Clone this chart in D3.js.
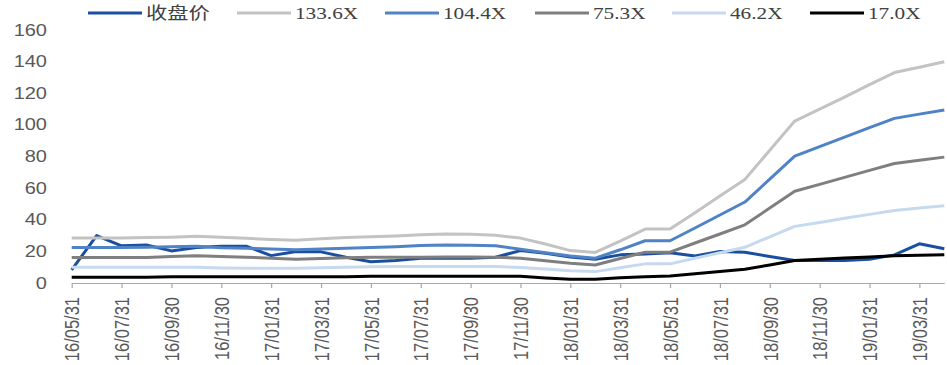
<!DOCTYPE html>
<html>
<head>
<meta charset="utf-8">
<script src="https://cdn.jsdelivr.net/npm/d3@7"></script>
<style>
  body { margin: 0; background: #fff; }
  svg { display: block; }
</style>
</head>
<body>
<script>
'use strict';

// month-end dates, 16/05/31 .. 19/04/30
const dates = [
  '16/05/31', '16/06/30', '16/07/31', '16/08/31', '16/09/30', '16/10/31',
  '16/11/30', '16/12/31', '17/01/31', '17/02/28', '17/03/31', '17/04/30',
  '17/05/31', '17/06/30', '17/07/31', '17/08/31', '17/09/30', '17/10/31',
  '17/11/30', '17/12/31', '18/01/31', '18/02/28', '18/03/31', '18/04/30',
  '18/05/31', '18/06/30', '18/07/31', '18/08/31', '18/09/30', '18/10/31',
  '18/11/30', '18/12/31', '19/01/31', '19/02/28', '19/03/31', '19/04/30'
];

const seriesNames = ['收盘价', '133.6X', '104.4X', '75.3X', '46.2X', '17.0X'];
const seriesColors = ['#1a4f9f', '#c3c3c3', '#4f83c6', '#7f7f7f', '#c6d9ef', '#000000'];

const closePrice = [8.3, 30, 23.5, 24, 20.3, 22.4, 23.3, 23.3, 17.3, 19.9, 19.7, 16.3,
  13.5, 14.2, 15.7, 15.7, 15.7, 16.3, 20.5, 18.8, 16.5, 15, 17.8, 18.4,
  19.2, 17.1, 19.9, 19.5, 16.7, 14.2, 14.2, 14.2, 15, 17.8, 24.8, 21.6];
const pe1336 = [28.4, 28.4, 28.4, 28.8, 29, 29.5, 29, 28.3, 27.5, 27, 28, 28.8,
  29.3, 29.8, 30.5, 31, 30.8, 30.2, 28.4, 24.7, 20.5, 19.3, 26.5, 34.1,
  34.1, 44.5, 55, 65.4, 84, 102.4, 110, 117.5, 125.5, 133.1, 136.5, 139.9];
const pe1044 = [22.5, 22.5, 22.5, 22.6, 23, 23.2, 22.3, 22, 21.5, 21, 21.5, 22,
  22.5, 23, 23.7, 24.1, 23.8, 23.5, 21.4, 19.2, 17.1, 15.7, 21, 26.7,
  26.7, 34.8, 43, 51.2, 65.7, 80.2, 86.2, 92.2, 98.2, 104.1, 106.8, 109.4];
const pe753 = [16.1, 16.1, 16.1, 16.1, 16.7, 17.3, 16.8, 16.3, 15.7, 15, 15.5, 16,
  16.3, 16.3, 16.3, 16.5, 16.5, 16.3, 15.7, 14, 12.5, 11.4, 15.5, 19.5,
  19.5, 25.3, 31, 36.8, 47.4, 58, 62.4, 66.8, 71.2, 75.6, 77.6, 79.6];
const pe462 = [10, 10, 10, 10, 10, 10, 9.5, 9.3, 9.3, 9.3, 9.6, 9.9,
  10.2, 10.4, 10.4, 10.4, 10.4, 10.4, 9.8, 8.8, 7.8, 7.2, 9.6, 12.1,
  12.1, 15.6, 19.1, 22.6, 29.2, 35.8, 38.3, 40.9, 43.4, 45.9, 47.4, 48.9];
const pe170 = [3.6, 3.6, 3.6, 3.6, 4, 4, 4, 4, 4, 4, 4, 4,
  4.2, 4.2, 4.2, 4.2, 4.2, 4.2, 4.2, 3.2, 2.3, 2.3, 3.3, 4,
  4.4, 5.8, 7.3, 8.7, 11.4, 14.2, 15, 15.8, 16.5, 17.3, 17.5, 17.8];

const yTicks = [0, 20, 40, 60, 80, 100, 120, 140, 160];

(function() {
  const width = 947;
  const height = 365;
  const stretch = 'scale(1.25,1)'; // text in the picture is widened

  const svg = d3.select('body')
    .append('svg')
    .attr('width', width)
    .attr('height', height);

  const x = d3.scalePoint()
    .domain(dates)
    .range([71.7, 944.3]);

  const y = d3.scaleLinear()
    .domain([0, 160])
    .range([283, 30]);

  // y axis: labels only
  const yAxis = svg.append('g')
    .attr('transform', 'translate(47,0)')
    .call(d3.axisLeft(y).tickValues(yTicks).tickSize(0).tickPadding(0));
  yAxis.select('.domain').remove();
  yAxis.selectAll('text')
    .attr('x', 0)
    .attr('transform', stretch)
    .style('font-family', '"Liberation Sans", Arial, sans-serif')
    .style('font-size', '16px')
    .attr('fill', '#595959');

  // x axis with a tick every second month
  const xAxis = svg.append('g')
    .attr('transform', 'translate(0,283)')
    .call(d3.axisBottom(x)
      .tickValues(dates.filter((d, i) => i % 2 === 0))
      .tickSize(5)
      .tickSizeOuter(0));
  xAxis.select('.domain').attr('stroke', '#a6a6a6').attr('stroke-width', 1.2);
  xAxis.selectAll('.tick line').attr('stroke', '#a6a6a6').attr('stroke-width', 1.2);
  xAxis.selectAll('text')
    .attr('x', 0)
    .attr('y', 0)
    .attr('dy', '0.35em')
    .attr('transform', 'translate(0,14) ' + stretch + ' rotate(-90)')
    .attr('text-anchor', 'end')
    .style('font-family', '"Liberation Sans", Arial, sans-serif')
    .style('font-size', '16.5px')
    .attr('fill', '#595959');

  const seriesValues = [closePrice, pe1336, pe1044, pe753, pe462, pe170];

  const line = d3.line()
    .x((d, i) => x(dates[i]))
    .y(d => y(d));

  seriesValues.forEach((vals, k) => {
    svg.append('path')
      .datum(vals)
      .attr('fill', 'none')
      .attr('stroke', seriesColors[k])
      .attr('stroke-width', 3)
      .attr('stroke-linejoin', 'round')
      .attr('d', line);
  });

  // legend
  const legendX = [88, 237, 385, 535, 672, 810];
  seriesNames.forEach((name, k) => {
    const g = svg.append('g')
      .attr('transform', 'translate(' + legendX[k] + ',13)');
    g.append('line')
      .attr('x1', 0)
      .attr('x2', 54)
      .attr('stroke', seriesColors[k])
      .attr('stroke-width', 3);
    g.append('text')
      .attr('transform', 'translate(58,0) ' + stretch)
      .attr('dy', '0.35em')
      .style('font-family', '"Liberation Serif", "Noto Sans CJK SC", serif')
      .style('font-size', '17px')
      .attr('fill', '#404040')
      .text(name);
  });
})();
</script>
</body>
</html>
